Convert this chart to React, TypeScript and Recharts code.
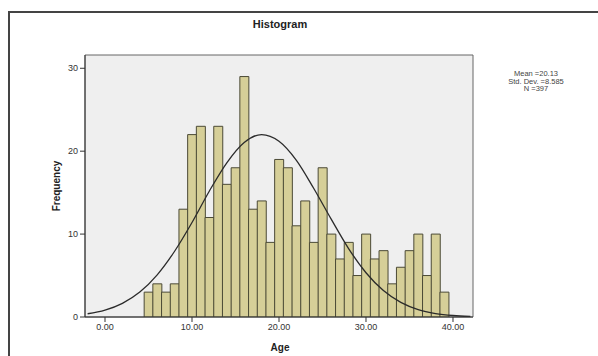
import React from 'react';
import {
  ComposedChart,
  Bar,
  Line,
  XAxis,
  YAxis,
  CartesianGrid,
  ReferenceArea,
} from 'recharts';

// bin centres (age), one-year bins
const ages = [
  5, 6, 7, 8, 9, 10, 11, 12, 13, 14, 15, 16, 17, 18, 19, 20, 21, 22,
  23, 24, 25, 26, 27, 28, 29, 30, 31, 32, 33, 34, 35, 36, 37, 38, 39,
];
const counts = [
  3, 4, 3, 4, 13, 22, 23, 12, 23, 16, 18, 29, 13, 14, 9, 19, 18, 11,
  14, 9, 18, 10, 7, 9, 5, 10, 7, 8, 4, 6, 8, 10, 5, 10, 3,
];

// normal curve
const curveX = [-2, 0, 2, 4, 6, 8, 10, 12, 14, 16, 18, 20, 22, 24, 26, 28, 30, 32, 34, 36, 38, 40, 42];
const curveY = [
  0.39, 0.83, 1.65, 3.01, 5.09, 7.93, 11.4, 15.2, 18.6, 21.05, 22.0, 21.2,
  18.9, 15.5, 11.8, 8.25, 5.34, 3.19, 1.76, 0.89, 0.42, 0.18, 0.07,
];

const xTicks = [0, 10, 20, 30, 40];
const yTicks = [0, 10, 20, 30];
const stats = ['Mean =20.13', 'Std. Dev. =8.585', 'N =397'];

const X_MIN = -2.3;
const X_MAX = 42.3;
const Y_MAX = 31.6;

const byX = new Map<number, { x: number; count?: number; curve?: number }>();
ages.forEach((a, i) => byX.set(a, { x: a, count: counts[i] }));
curveX.forEach((x, i) => {
  const row = byX.get(x) || { x };
  row.curve = curveY[i];
  byX.set(x, row);
});
const data = Array.from(byX.values()).sort((a, b) => a.x - b.x);

const font = '"Liberation Sans", Arial, sans-serif';
const tickStyle = { fontSize: 9, fill: '#333', fontFamily: font };

export default function App() {
  return (
    <div style={{ position: 'absolute', left: 0, top: 0, width: 598, height: 356, background: '#fff' }}>
      <div
        style={{
          position: 'absolute',
          left: 8,
          top: 11,
          width: 600,
          height: 360,
          borderLeft: '2px solid #444',
          borderTop: '2px solid #444',
          boxSizing: 'border-box',
        }}
      />
      <ComposedChart
        width={598}
        height={356}
        data={data}
        margin={{ top: 55, right: 125, bottom: 9, left: 55 }}
        barCategoryGap={0}
        barGap={0}
        style={{ position: 'absolute', left: 0, top: 0 }}
      >
        <CartesianGrid horizontal={false} vertical={false} fill="#efefef" />
        <XAxis
          dataKey="x"
          type="number"
          domain={[X_MIN, X_MAX]}
          ticks={xTicks}
          tickFormatter={(v: number) => v.toFixed(2)}
          tick={tickStyle}
          tickSize={5}
          stroke="#333"
          height={30}
          allowDataOverflow
        />
        <YAxis
          type="number"
          domain={[0, Y_MAX]}
          ticks={yTicks}
          tick={tickStyle}
          tickSize={5}
          stroke="#333"
          width={30}
          allowDataOverflow
        />
        <ReferenceArea x1={X_MIN} x2={X_MAX} y1={0} y2={Y_MAX} fill="none" stroke="#666" strokeWidth={1} />
        <Bar dataKey="count" fill="#d6cf98" stroke="#4b4a36" strokeWidth={1} isAnimationActive={false} />
        <Line
          dataKey="curve"
          type="monotone"
          stroke="#2b2b2b"
          strokeWidth={1.3}
          dot={false}
          connectNulls
          isAnimationActive={false}
        />
        <text x={280} y={28} textAnchor="middle" fontFamily={font} fontSize={11} fontWeight="bold" fill="#222">
          Histogram
        </text>
        <text
          x={60}
          y={186}
          transform="rotate(-90 60 186)"
          textAnchor="middle"
          fontFamily={font}
          fontSize={10}
          fontWeight="bold"
          fill="#222"
        >
          Frequency
        </text>
        <text x={280} y={351} textAnchor="middle" fontFamily={font} fontSize={10} fontWeight="bold" fill="#222">
          Age
        </text>
        {stats.map((s, i) => (
          <text key={s} x={536} y={76 + i * 7.5} textAnchor="middle" fontFamily={font} fontSize={7.5} fill="#444">
            {s}
          </text>
        ))}
      </ComposedChart>
    </div>
  );
}
